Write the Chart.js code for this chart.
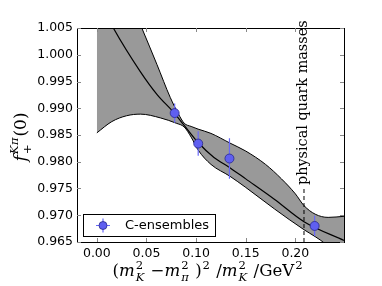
<!DOCTYPE html>
<html>
<head>
<meta charset="utf-8">
<script src="https://cdn.jsdelivr.net/npm/chart.js@4"></script>
<style>
    html, body { margin: 0; padding: 0; background: #fff; }
</style>
</head>
<body>
<canvas id="myChart" width="382" height="286"></canvas>
<script>
// C-ensemble data points
const pointX = [0.0784, 0.1021, 0.1336, 0.2194];
const pointY = [0.9891, 0.9834, 0.9806, 0.9680];
const pointYErr = [0.0018, 0.0023, 0.0038, 0.0019];
const pointXErr = [0.003, 0.003, 0.003, 0.003];

// fit band
const upperX = [0.000, 0.020, 0.0453, 0.0605, 0.074, 0.082, 0.088, 0.095, 0.102, 0.115, 0.134, 0.150, 0.170, 0.186, 0.200, 0.2087, 0.220, 0.233, 0.249];
const upperY = [1.030, 1.016, 1.005, 0.9982, 0.9920, 0.9890, 0.9872, 0.9866, 0.9861, 0.9853, 0.9835, 0.9820, 0.9795, 0.9768, 0.9740, 0.9718, 0.9702, 0.9696, 0.9698];
const lowerX = [0.000, 0.015, 0.030, 0.044, 0.064, 0.080, 0.088, 0.095, 0.102, 0.115, 0.134, 0.150, 0.1788, 0.2087, 0.220, 0.230, 0.249];
const lowerY = [0.9854, 0.9875, 0.9886, 0.9889, 0.9882, 0.9872, 0.9865, 0.9846, 0.9822, 0.9795, 0.9773, 0.9752, 0.9712, 0.9673, 0.9660, 0.9647, 0.9615];
const centralX = [0.000, 0.0166, 0.0436, 0.0605, 0.078, 0.088, 0.102, 0.118, 0.134, 0.150, 0.1788, 0.2087, 0.249];
const centralY = [1.0110, 1.005, 0.9969, 0.9926, 0.9891, 0.9868, 0.9836, 0.9808, 0.9789, 0.9768, 0.9730, 0.9688, 0.9653];

const physicalPoint = 0.2087;
const seriesLabel = 'C-ensembles';
const physicalLabel = 'physical quark masses';

const yMin = 0.965, yMax = 1.005, yStep = 0.005;
const xMin = -0.02, xMax = 0.249, xStep = 0.05;

const pointFill = 'rgb(95,95,240)';
const pointEdge = 'rgb(40,40,140)';
const barColor = 'rgb(105,105,250)';

function toXY(xs, ys) {
    return xs.map((x, i) => ({ x: x, y: ys[i] }));
}

// little math text runner: parts are plain/italic runs or sup/sub stacks
function runMath(ctx, parts, size, draw) {
    let x = 0;
    const fam = '"DejaVu Serif"';
    parts.forEach(p => {
        if (p.t !== undefined) {
            ctx.font = (p.f === 'i' ? 'italic ' : '') + size + 'px ' + fam;
            if (draw) ctx.fillText(p.t, x, 0);
            x += ctx.measureText(p.t).width;
        } else {
            const ss = size * 0.7;
            let w = 0;
            if (p.sup) {
                ctx.font = (p.supF === 'i' ? 'italic ' : '') + ss + 'px ' + fam;
                if (draw) ctx.fillText(p.sup, x + 1, -size * 0.45);
                w = Math.max(w, ctx.measureText(p.sup).width);
            }
            if (p.sub) {
                ctx.font = (p.subF === 'i' ? 'italic ' : '') + ss + 'px ' + fam;
                if (draw) ctx.fillText(p.sub, x + 1, size * 0.28);
                w = Math.max(w, ctx.measureText(p.sub).width);
            }
            x += w + 2;
        }
    });
    return x;
}

const xTitle = [
    { t: '(', f: 'r' }, { t: 'm', f: 'i' }, { sup: '2', sub: 'K', subF: 'i' },
    { t: ' \u2212', f: 'r' }, { t: 'm', f: 'i' }, { sup: '2', sub: '\u03c0', subF: 'i' },
    { t: ' )', f: 'r' }, { sup: '2' }, { t: ' /', f: 'r' },
    { t: 'm', f: 'i' }, { sup: '2', sub: 'K', subF: 'i' }, { t: ' /GeV', f: 'r' }, { sup: '2' }
];
const yTitle = [
    { t: 'f', f: 'i' }, { sup: 'K\u03c0', supF: 'i', sub: '+' }, { t: '(0)', f: 'r' }
];

const decorPlugin = {
    id: 'decor',
    beforeDatasetDraw(chart, args) {
        if (args.index !== 3) return;
        const ctx = chart.ctx;
        const xs = chart.scales.x, ys = chart.scales.y;
        ctx.save();
        ctx.strokeStyle = barColor;
        ctx.lineWidth = 1.2;
        pointX.forEach((x, i) => {
            const px = xs.getPixelForValue(x);
            const py = ys.getPixelForValue(pointY[i]);
            ctx.beginPath();
            ctx.moveTo(px, ys.getPixelForValue(pointY[i] - pointYErr[i]));
            ctx.lineTo(px, ys.getPixelForValue(pointY[i] + pointYErr[i]));
            ctx.moveTo(xs.getPixelForValue(x - pointXErr[i]), py);
            ctx.lineTo(xs.getPixelForValue(x + pointXErr[i]), py);
            ctx.stroke();
        });
        ctx.restore();
    },
    afterDatasetsDraw(chart) {
        const ctx = chart.ctx;
        const a = chart.chartArea;
        const xs = chart.scales.x, ys = chart.scales.y;
        ctx.save();

        // dashed line at physical point, text above it
        const lx = xs.getPixelForValue(physicalPoint);
        ctx.strokeStyle = '#000';
        ctx.lineWidth = 1;
        ctx.setLineDash([4, 3]);
        ctx.beginPath();
        ctx.moveTo(lx, a.bottom);
        ctx.lineTo(lx, 188);
        ctx.stroke();
        ctx.setLineDash([]);

        ctx.save();
        ctx.translate(lx + 3, 185);
        ctx.rotate(-Math.PI / 2);
        ctx.fillStyle = '#000';
        ctx.font = '14.4px "DejaVu Serif"';
        ctx.textAlign = 'left';
        ctx.textBaseline = 'alphabetic';
        ctx.fillText(physicalLabel, 0, 0);
        ctx.restore();

        // frame and inward ticks
        ctx.strokeStyle = '#000';
        ctx.lineWidth = 1;
        ctx.strokeRect(Math.round(a.left) + 0.5, Math.round(a.top) + 0.5, Math.round(a.right - a.left), Math.round(a.bottom - a.top));
        ctx.strokeStyle = '#888';
        ctx.beginPath();
        xs.ticks.forEach(t => {
            const px = Math.round(xs.getPixelForValue(t.value)) + 0.5;
            ctx.moveTo(px, a.bottom); ctx.lineTo(px, a.bottom - 4);
            ctx.moveTo(px, a.top); ctx.lineTo(px, a.top + 4);
        });
        ys.ticks.forEach(t => {
            const py = Math.round(ys.getPixelForValue(t.value)) + 0.5;
            ctx.moveTo(a.left, py); ctx.lineTo(a.left + 4, py);
            ctx.moveTo(a.right, py); ctx.lineTo(a.right - 4, py);
        });
        ctx.stroke();

        // legend box
        const bx = 83.5, by = 214.5, bw = 132, bh = 22;
        ctx.fillStyle = '#fff';
        ctx.fillRect(bx, by, bw, bh);
        ctx.strokeStyle = '#000';
        ctx.strokeRect(bx, by, bw, bh);
        const mx = 103, my = by + bh / 2;
        ctx.strokeStyle = barColor;
        ctx.lineWidth = 1.2;
        ctx.beginPath();
        ctx.moveTo(mx - 7, my); ctx.lineTo(mx + 7, my);
        ctx.moveTo(mx, my - 7); ctx.lineTo(mx, my + 7);
        ctx.stroke();
        ctx.beginPath();
        ctx.arc(mx, my, 4, 0, Math.PI * 2);
        ctx.fillStyle = pointFill;
        ctx.fill();
        ctx.strokeStyle = pointEdge;
        ctx.lineWidth = 0.8;
        ctx.stroke();
        ctx.fillStyle = '#000';
        ctx.font = '13px "DejaVu Sans"';
        ctx.textBaseline = 'middle';
        ctx.textAlign = 'left';
        ctx.fillText(seriesLabel, 125, my + 0.5);

        // axis titles
        ctx.textBaseline = 'alphabetic';
        ctx.fillStyle = '#000';
        const xw = runMath(ctx, xTitle, 16.6, false);
        ctx.save();
        ctx.translate(208 - xw / 2, 276);
        runMath(ctx, xTitle, 16.6, true);
        ctx.restore();

        const yw = runMath(ctx, yTitle, 17, false);
        ctx.save();
        ctx.translate(26, 137 + yw / 2);
        ctx.rotate(-Math.PI / 2);
        runMath(ctx, yTitle, 17, true);
        ctx.restore();

        ctx.restore();
    }
};

Chart.defaults.font.family = '"DejaVu Sans"';
Chart.defaults.color = '#000';

const ctx = document.getElementById('myChart').getContext('2d');
new Chart(ctx, {
    type: 'line',
    data: {
        datasets: [{
            label: 'upper',
            data: toXY(upperX, upperY),
            borderColor: '#000',
            borderWidth: 1,
            pointRadius: 0,
            cubicInterpolationMode: 'monotone',
            fill: false,
            order: 3
        }, {
            label: 'lower',
            data: toXY(lowerX, lowerY),
            borderColor: '#000',
            borderWidth: 1,
            pointRadius: 0,
            cubicInterpolationMode: 'monotone',
            fill: '-1',
            backgroundColor: 'rgb(153,153,153)',
            order: 2
        }, {
            label: 'central',
            data: toXY(centralX, centralY),
            borderColor: '#000',
            borderWidth: 1.2,
            pointRadius: 0,
            cubicInterpolationMode: 'monotone',
            fill: false,
            order: 1
        }, {
            label: seriesLabel,
            data: toXY(pointX, pointY),
            showLine: false,
            pointRadius: 4.5,
            pointBackgroundColor: pointFill,
            pointBorderColor: pointEdge,
            pointBorderWidth: 0.8,
            fill: false,
            order: 0
        }]
    },
    options: {
        responsive: false,
        animation: false,
        devicePixelRatio: 1,
        layout: { padding: { left: 0, top: 28, right: 38, bottom: 0 } },
        plugins: {
            legend: { display: false },
            tooltip: { enabled: false },
            filler: { drawTime: 'beforeDatasetsDraw' }
        },
        scales: {
            x: {
                type: 'linear',
                min: xMin,
                max: xMax,
                grid: { display: false, drawTicks: false },
                border: { display: false },
                ticks: {
                    stepSize: xStep,
                    includeBounds: false,
                    padding: 4,
                    maxRotation: 0,
                    font: { size: 12.5 },
                    callback: v => v.toFixed(2)
                },
                afterFit: s => { s.height = 44; }
            },
            y: {
                min: yMin,
                max: yMax,
                grid: { display: false, drawTicks: false },
                border: { display: false },
                ticks: {
                    stepSize: yStep,
                    padding: 4,
                    font: { size: 12.5 },
                    callback: v => v.toFixed(3)
                },
                afterFit: s => { s.width = 77; }
            }
        }
    },
    plugins: [decorPlugin]
});
</script>
</body>
</html>
